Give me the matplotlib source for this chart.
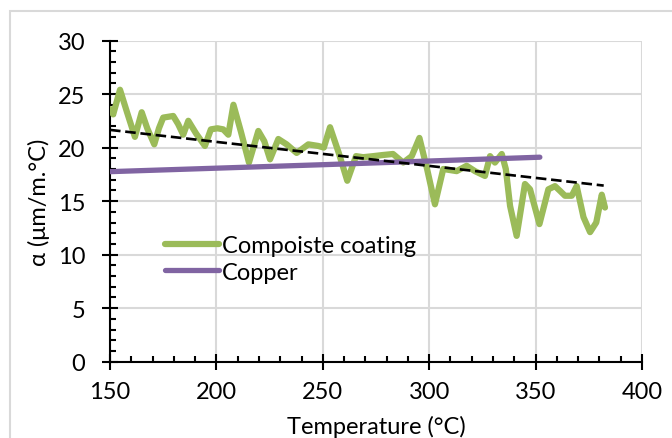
import matplotlib.pyplot as plt
from matplotlib.patches import Rectangle
from matplotlib.ticker import MultipleLocator

# Composite coating
coat_temp = [150.0, 151.5, 154.7, 158.0, 161.7, 164.9, 167.5, 170.8, 173.0, 175.0, 179.7,
             182.0, 184.4, 186.8, 190.5, 194.6, 197.4, 200.5, 203.2, 205.6, 208.0, 211.5,
             215.3, 219.7, 222.5, 225.2, 229.1, 233.0, 237.7, 240.5, 243.2, 247.9, 250.5,
             253.4, 257.5, 261.5, 265.6, 269.0, 273.7, 278.0, 283.0, 287.8, 291.8, 295.4,
             299.0, 302.7, 306.6, 312.9, 317.6, 321.5, 326.2, 328.6, 330.9, 334.1, 336.0,
             338.0, 341.1, 345.0, 347.4, 351.8, 356.0, 359.1, 361.5, 363.8, 367.0, 369.3,
             372.5, 375.6, 378.5, 381.1, 382.6]
coat_alpha = [23.6, 23.1, 25.4, 23.3, 21.0, 23.3, 21.8, 20.3, 21.8, 22.8, 22.95,
              22.2, 21.2, 22.5, 21.3, 20.15, 21.7, 21.8, 21.7, 21.2, 24.0, 21.5,
              18.6, 21.55, 20.6, 18.9, 20.8, 20.3, 19.5, 19.9, 20.3, 20.15, 20.0,
              21.9, 19.5, 16.9, 19.2, 19.1, 19.2, 19.3, 19.4, 18.6, 19.2, 20.9,
              18.0, 14.7, 18.0, 17.8, 18.3, 17.8, 17.35, 19.2, 18.6, 19.4, 18.0,
              14.55, 11.75, 16.6, 16.1, 12.85, 16.1, 16.4, 15.95, 15.5, 15.5, 16.4,
              13.5, 12.1, 13.0, 15.6, 14.4]

# Copper
cu_temp = [150, 250, 352]
cu_alpha = [17.75, 18.4, 19.1]

# linear trend of the coating
trend_temp = [150, 382]
trend_alpha = [21.65, 16.45]

fig = plt.figure(figsize=(6.72, 4.39), dpi=100)
plt.rcParams['font.family'] = ['Lato', 'DejaVu Sans']

# chart area border
fig.patches.append(Rectangle((10 / 672, -0.05), 1.1, 1.05 - 12 / 439, transform=fig.transFigure,
                             fill=False, edgecolor='#d9d9d9', linewidth=1.5))

ax = fig.add_axes([110 / 672, 1 - 362.7 / 439, 532 / 672, 321.2 / 439])

ax.plot(coat_temp, coat_alpha, color='#9bbb59', linewidth=4.5, solid_joinstyle='round',
        solid_capstyle='round', label='Compoiste coating', zorder=3)
ax.plot(cu_temp, cu_alpha, color='#8064a2', linewidth=3.8, solid_capstyle='round',
        label='Copper', zorder=3)
ax.plot(trend_temp, trend_alpha, color='black', linewidth=1.9, dashes=(4, 1.8), zorder=4)

ax.set_xlim(150, 400)
ax.set_ylim(0, 30)
ax.xaxis.set_major_locator(MultipleLocator(50))
ax.xaxis.set_minor_locator(MultipleLocator(10))
ax.yaxis.set_major_locator(MultipleLocator(5))
ax.yaxis.set_minor_locator(MultipleLocator(1))
ax.grid(True, which='major', color='#d9d9d9', linewidth=1.5)
ax.set_axisbelow(True)

for s in ['top', 'right']:
    ax.spines[s].set_visible(False)
ax.spines['left'].set_linewidth(1.5)
ax.spines['bottom'].set_linewidth(1.5)
ax.tick_params(which='major', direction='inout', length=11.5, width=1.5, labelsize=17)
ax.tick_params(axis='x', which='major', pad=8)
ax.tick_params(axis='y', which='major', pad=12)
ax.tick_params(which='minor', direction='in', length=4.3, width=1.5)

ax.set_xlabel('Temperature (°C)', fontsize=17)
ax.set_ylabel('α (μm/m.°C)', fontsize=17)
ax.xaxis.set_label_coords(0.5, -0.165)
ax.yaxis.set_label_coords(-0.112, 0.5)

ax.legend(loc='upper left', bbox_to_anchor=(0.081, 0.43), frameon=False, fontsize=17,
          handlelength=2.3, handletextpad=0.12, labelspacing=0.22, borderpad=0)

fig.savefig('out.png', dpi=100)
